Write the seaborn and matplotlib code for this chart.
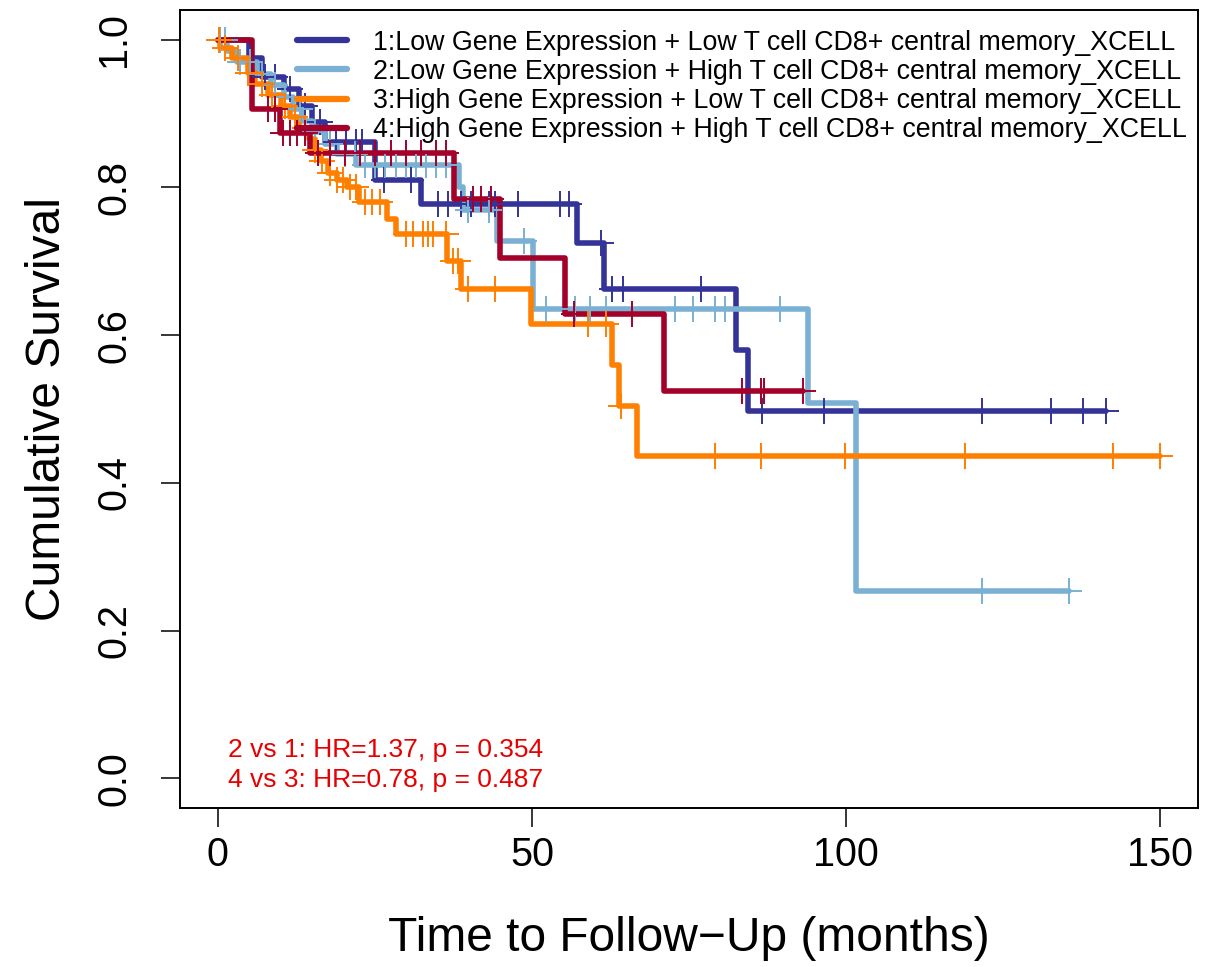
import numpy as np
import pandas as pd
import matplotlib
matplotlib.use("Agg")
import matplotlib.pyplot as plt
import seaborn as sns

# ---------------- data ----------------
labels = [
    "1:Low Gene Expression + Low T cell CD8+ central memory_XCELL",
    "2:Low Gene Expression + High T cell CD8+ central memory_XCELL",
    "3:High Gene Expression + Low T cell CD8+ central memory_XCELL",
    "4:High Gene Expression + High T cell CD8+ central memory_XCELL",
]
colors = ["#333399", "#7AB0D4", "#FF7F00", "#A3002A"]

times1 = [0, 5, 7, 10.5, 13, 15, 17, 25, 32.4, 57.1, 61.5, 82.5, 84.4, 141.4]
surv1 = [1.0, 0.975, 0.95, 0.933, 0.91, 0.888, 0.861, 0.81, 0.778, 0.724, 0.663, 0.58, 0.497, 0.497]
cens1 = [0.3, 5.1, 7.5, 9.1, 11.5, 13.9, 16.3, 18.8, 20.4, 22.0, 23.0, 26.5, 30.7, 35.0, 36.6,
         38.7, 40.3, 43.1, 44.2, 47.8, 54.5, 55.9, 61.0, 62.8, 64.5, 76.9, 86.6, 96.5, 121.7,
         132.6, 137.7, 141.4]

times2 = [0, 1.5, 3, 6.2, 8.5, 10.5, 12, 13.5, 15, 17, 19, 22, 38.4, 39.1, 44.4, 50.1, 93.9, 101.5, 135.5]
surv2 = [1.0, 0.985, 0.969, 0.953, 0.938, 0.922, 0.906, 0.89, 0.875, 0.859, 0.845, 0.83, 0.80,
         0.769, 0.728, 0.635, 0.508, 0.254, 0.254]
cens2 = [0.4, 1.1, 3.5, 5.1, 7.0, 9.1, 10.7, 13.1, 15.5, 17.9, 20.3, 21.9, 23.5, 25.1, 26.7,
         28.3, 29.9, 31.5, 33.1, 34.7, 36.3, 39.8, 43.1, 48.7, 52.2, 56.9, 59.3, 61.8, 72.7,
         75.7, 79.2, 80.7, 89.5, 121.7, 135.5]

times3 = [0, 0.4, 2.3, 4.8, 6, 8, 10, 11.5, 13, 14.5, 15.5, 16.5, 17.5, 19, 20.5, 22.5, 27, 28.3,
          36.5, 38.7, 49.8, 62.7, 63.8, 66.8, 150]
surv3 = [1.0, 0.988, 0.975, 0.955, 0.94, 0.925, 0.91, 0.895, 0.88, 0.865, 0.85, 0.835, 0.82, 0.81,
         0.80, 0.78, 0.757, 0.737, 0.70, 0.663, 0.615, 0.559, 0.504, 0.437, 0.437]
cens3 = [0.2, 1.1, 3.2, 4.8, 7.0, 8.6, 10.7, 12.3, 13.9, 15.5, 16.6, 17.9, 19.0, 20.0, 21.1,
         22.0, 23.5, 24.6, 25.9, 29.9, 31.0, 32.6, 33.5, 34.2, 36.3, 37.5, 38.2, 39.9, 44.1,
         58.9, 61.8, 64.2, 79.2, 86.4, 99.8, 119.0, 142.5, 150.0]

times4 = [0, 5.5, 9.9, 14.7, 37.6, 45.0, 55.3, 71.1, 93.2]
surv4 = [1.0, 0.906, 0.873, 0.846, 0.784, 0.705, 0.628, 0.524, 0.524]
cens4 = [8.0, 9.1, 10.4, 11.5, 12.6, 13.9, 16.0, 17.9, 20.3, 22.7, 25.1, 27.5, 29.9, 32.3,
         34.7, 36.3, 40.6, 41.9, 43.5, 56.7, 66.0, 83.5, 86.4, 86.9, 93.2]

stat_lines = ["2 vs 1: HR=1.37, p = 0.354", "4 vs 3: HR=0.78, p = 0.487"]
xticks = [0, 50, 100, 150]
yticks = [0.0, 0.2, 0.4, 0.6, 0.8, 1.0]

# ---------------- plot ----------------
sns.set_theme(style="ticks")
plt.rcParams["font.family"] = ["Liberation Sans", "DejaVu Sans"]
plt.rcParams["text.color"] = "black"
plt.rcParams["axes.labelcolor"] = "black"
plt.rcParams["xtick.color"] = "black"
plt.rcParams["ytick.color"] = "black"

fig = plt.figure(figsize=(12.22, 9.67), dpi=100)
ax = fig.add_axes([180 / 1222, 1 - 808 / 967, 1018 / 1222, 798 / 967])

series = [(times1, surv1, cens1), (times2, surv2, cens2), (times3, surv3, cens3), (times4, surv4, cens4)]
for (t, s, c), col, lab in zip(series, colors, labels):
    df = pd.DataFrame({"time": t, "surv": s})
    sns.lineplot(data=df, x="time", y="surv", drawstyle="steps-post", color=col, linewidth=4.0,
                 estimator=None, sort=False, ax=ax, label=lab)
    t_arr = np.asarray(t)
    s_arr = np.asarray(s)
    idx = np.searchsorted(t_arr, np.asarray(c), side="right") - 1
    cdf = pd.DataFrame({"time": c, "surv": s_arr[idx]})
    sns.scatterplot(data=cdf, x="time", y="surv", marker="+", s=330, color=col, linewidth=1.4,
                    ax=ax, legend=False, zorder=3)

ax.set_xlim(-6, 156)
ax.set_ylim(-0.04, 1.04)
ax.set_xticks(xticks)
ax.set_xticklabels([str(v) for v in xticks])
ax.set_yticks(yticks)
ax.set_yticklabels([f"{v:.1f}" for v in yticks])
ax.tick_params(axis="both", direction="out", length=13.5, width=1.1, labelsize=28.5,
               color="black", labelcolor="black")
ax.tick_params(axis="x", pad=7)
ax.tick_params(axis="y", pad=34)
for lbl in ax.get_yticklabels():
    lbl.set_rotation(90)
    lbl.set_va("center")
    lbl.set_ha("center")

for sp in ax.spines.values():
    sp.set_linewidth(1.4)
    sp.set_color("black")

ax.set_xlabel("Time to Follow\u2212Up (months)", fontsize=34.5, color="black")
ax.set_ylabel("Cumulative Survival", fontsize=34.5, color="black")
ax.xaxis.label.set_va("center")
ax.xaxis.set_label_coords(0.5, -0.163)
ax.yaxis.label.set_va("center")
ax.yaxis.label.set_ha("center")
ax.yaxis.set_label_coords(-0.13, 0.5)

leg = ax.legend(loc="upper right", bbox_to_anchor=(1.0, 0.989), frameon=False, fontsize=19.3,
                handlelength=1.85, handletextpad=1.0, labelspacing=0.12, borderaxespad=0.2,
                borderpad=0.2)
for line in leg.get_lines():
    line.set_linewidth(4.5)
    line.set_solid_capstyle("round")
for txt in leg.get_texts():
    txt.set_color("black")

ax.text(1.6, 0.039, stat_lines[0], color="#E60000", fontsize=19, va="center", ha="left")
ax.text(1.6, -0.002, stat_lines[1], color="#E60000", fontsize=19, va="center", ha="left")

fig.savefig("out.png", dpi=100)
